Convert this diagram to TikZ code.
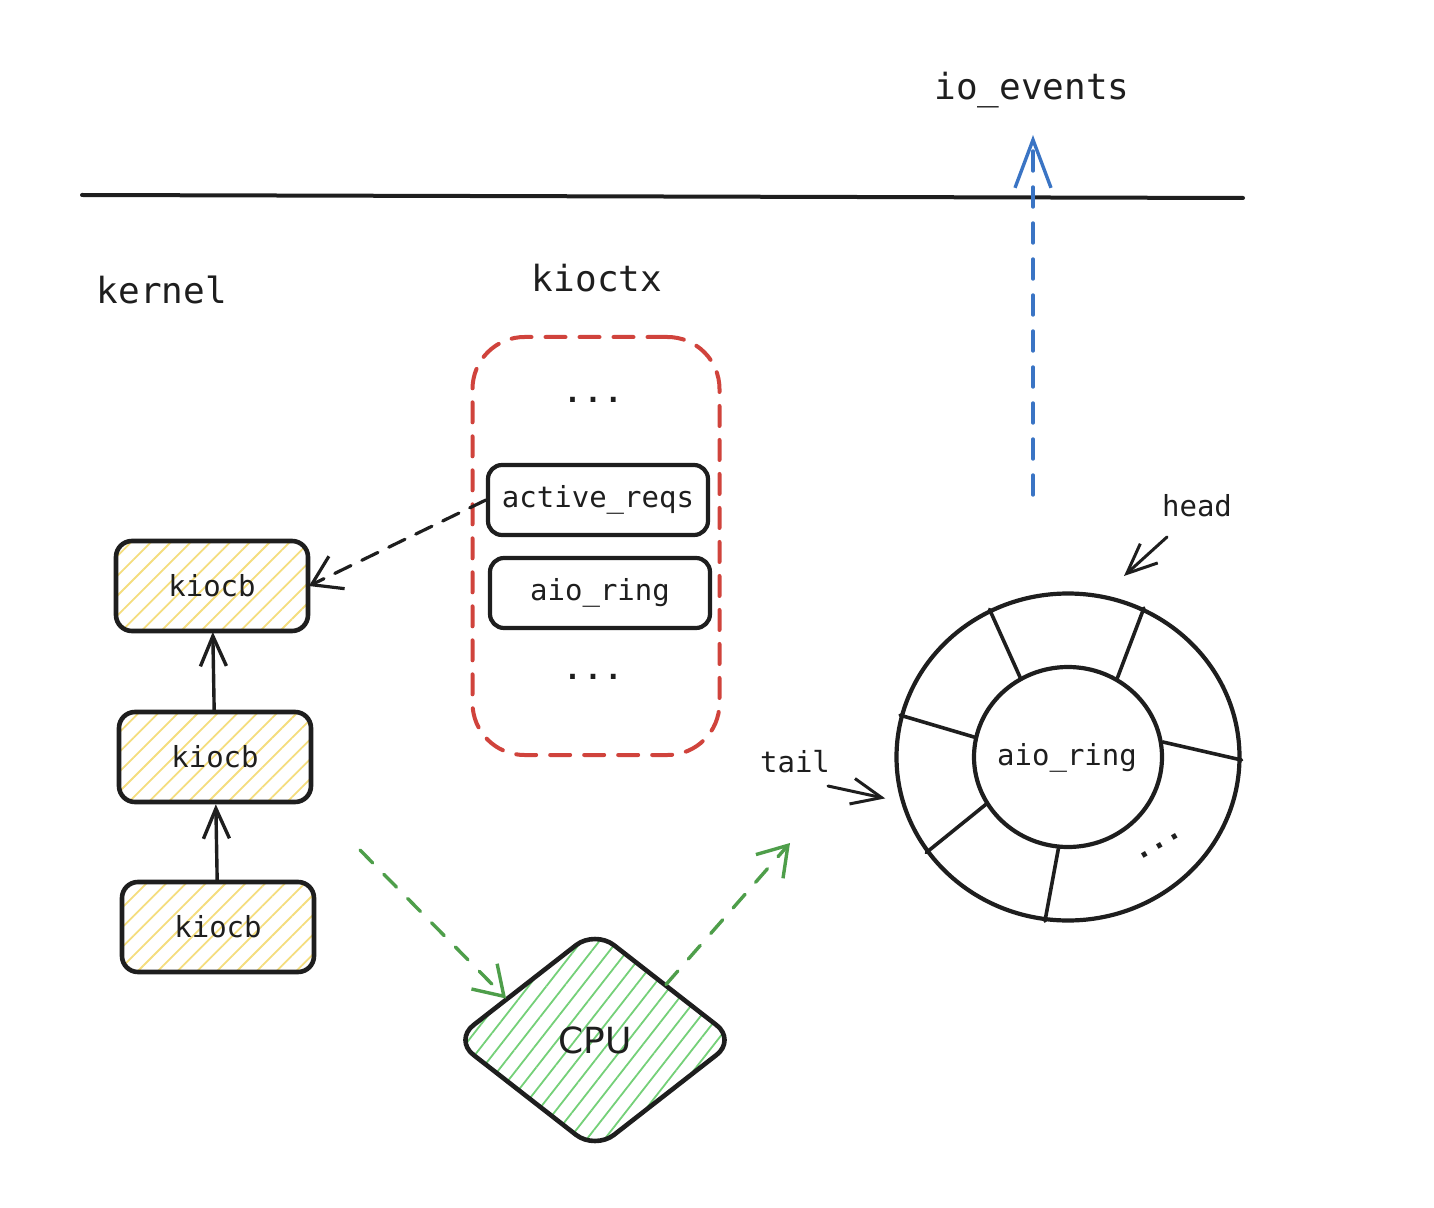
\documentclass[tikz,border=0pt]{standalone}
\usepackage{fontspec}
\setmonofont{DejaVu Sans Mono}
\setsansfont{DejaVu Sans}
\usetikzlibrary{arrows.meta,shapes.geometric,patterns.meta,positioning}
\definecolor{ink}{HTML}{1E1E1E}
\definecolor{hatchyellow}{HTML}{F4DD7E}
\definecolor{hatchgreen}{HTML}{74D078}
\definecolor{ctxred}{HTML}{D0433C}
\definecolor{flowgreen}{HTML}{4E9E4A}
\definecolor{evblue}{HTML}{3A74C4}
\newcommand{\spreaddots}{\textbf{.\kern1.5pt.\kern1.5pt.}}
\begin{document}
\begin{tikzpicture}[x=0.5pt,y=-0.5pt,line cap=round,line join=round,
  bigtext/.style={font=\ttfamily\fontsize{18}{20}\selectfont,text=ink},
  smalltext/.style={font=\ttfamily\fontsize{14.5}{16}\selectfont,text=ink},
  kiocbbox/.style={draw=ink,line width=2.3pt,rounded corners=8pt,minimum width=96pt,minimum height=45pt,
    pattern={Lines[angle=45,distance=7pt,line width=0.9pt]},pattern color=hatchyellow,smalltext},
  fieldbox/.style={draw=ink,line width=2.1pt,rounded corners=7pt,minimum width=110pt,minimum height=35pt,smalltext},
  barb/.style={-{Straight Barb[length=15pt,width=13pt]}},
  wide barb/.style={-{Straight Barb[length=14pt,width=18pt]}}]
  \useasboundingbox (0,0) rectangle (1434,1208);

  \draw[ink,line width=2pt] (82,195) -- (1243,198);
  \node[bigtext] (events) at (1032,90) {io\_events};
  \node[bigtext] (kernel) at (162,290) {kernel};
  \node[bigtext] (kioctx) at (597,278) {kioctx};

  \node[draw=ctxred,line width=2pt,dash pattern=on 10pt off 7pt,rounded corners=26pt,
    minimum width=123.5pt,minimum height=209pt] (ctx) at (596,546) {};
  \node[smalltext] (dotsup) at (593,400) {\spreaddots};
  \node[fieldbox] (reqs) at (598,500) {active\_reqs};
  \node[fieldbox] (ring) at (600,593) {aio\_ring};
  \node[smalltext] (dotsdown) at (593,677) {\spreaddots};

  \node[kiocbbox] (kiocba) at (212,586) {kiocb};
  \node[kiocbbox] (kiocbb) at (215,757) {kiocb};
  \node[kiocbbox] (kiocbc) at (218,927) {kiocb};
  \draw[ink,line width=1.7pt,barb] (kiocbc) -- (kiocbb);
  \draw[ink,line width=1.7pt,barb] (kiocbb) -- (kiocba);
  \draw[ink,line width=1.6pt,dash pattern=on 9pt off 6pt,wide barb] (reqs.west) -- (kiocba.east);

  \node[diamond,aspect=1.29,draw=ink,line width=2.3pt,rounded corners=12pt,inner sep=0pt,
    minimum width=141pt,minimum height=110pt,
    pattern={Lines[angle=52,distance=7pt,line width=0.9pt]},pattern color=hatchgreen,
    font=\sffamily\fontsize{18}{20}\selectfont,text=ink] (cpu) at (595,1040) {CPU};
  \coordinate (flowin) at (360,850);
  \coordinate (flowout) at (790,843);
  \draw[flowgreen,line width=1.7pt,dash pattern=on 9pt off 8pt,wide barb] (flowin) -- (cpu.155);
  \draw[flowgreen,line width=1.7pt,dash pattern=on 9pt off 8pt,wide barb] (cpu.38) -- (flowout);

  \node[ellipse,draw=ink,line width=2.1pt,inner sep=0pt,minimum width=171.5pt,minimum height=163.5pt] (ringout) at (1068,757) {};
  \node[ellipse,draw=ink,line width=2.1pt,inner sep=0pt,minimum width=94pt,minimum height=90pt] (ringin) at (1068,757) {};
  \node[smalltext] (ringtext) at (1067,758) {aio\_ring};
  \draw[ink,line width=1.8pt] (ringin.121) -- (ringout.118);
  \draw[ink,line width=1.8pt] (ringin.58) -- (ringout.63);
  \draw[ink,line width=1.8pt] (ringin.9) -- (ringout.-1);
  \draw[ink,line width=1.8pt] (ringin.168) -- (ringout.166);
  \draw[ink,line width=1.8pt] (ringin.210) -- (ringout.214);
  \draw[ink,line width=1.8pt] (ringin.264) -- (ringout.262);
  \node[smalltext,rotate=30,inner sep=0pt] (ringdots) at (1160,846) {\textbf{...}};

  \node[smalltext] (head) at (1197,506) {head};
  \coordinate (headfrom) at (1167,537);
  \coordinate (headto) at (1124,576);
  \draw[ink,line width=1.5pt,barb] (headfrom) -- (headto);
  \node[smalltext] (tail) at (795,762) {tail};
  \coordinate (tailfrom) at (828,786);
  \draw[ink,line width=1.5pt,barb,shorten >=8pt] (tailfrom) -- (ringout.195);

  \coordinate (eventsfrom) at (1033,495);
  \coordinate (eventsto) at (1033,135);
  \draw[evblue,line width=1.7pt,dash pattern=on 10pt off 8pt,-{Straight Barb[length=24pt,width=18pt]}] (eventsfrom) -- (eventsto);
\end{tikzpicture}
\end{document}
